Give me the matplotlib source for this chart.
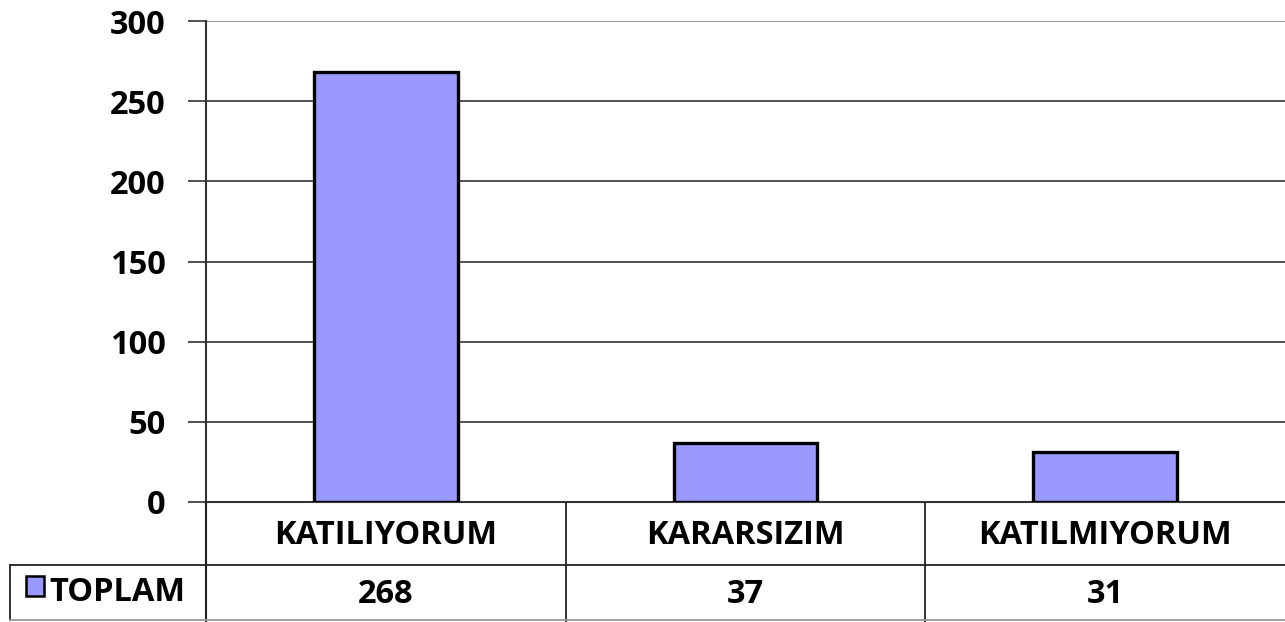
import matplotlib
matplotlib.use("Agg")
import matplotlib.pyplot as plt
from matplotlib.patches import Rectangle

categories = ["KATILIYORUM", "KARARSIZIM", "KATILMIYORUM"]
values = [268, 37, 31]
series_name = "TOPLAM"
yticks = [0, 50, 100, 150, 200, 250, 300]

plt.rcParams['font.family'] = ['Open Sans', 'DejaVu Sans']
W, H = 1285, 622
fig = plt.figure(figsize=(W / 100, H / 100), dpi=100)

FS = 23.5
bar_color = "#9999FF"
L, R, T, B = 206, 1285, 21, 502
ax = fig.add_axes([L / W, (H - B) / H, (R - L) / W, (B - T) / H])
x = list(range(len(categories)))
ax.bar(x, values, width=0.4, color=bar_color, edgecolor="black", linewidth=2.4, zorder=3)
ax.set_xlim(-0.5, len(categories) - 0.5)
ax.set_ylim(0, 300)
ax.set_yticks(yticks)
ax.set_yticklabels([str(v) for v in yticks], fontsize=FS, fontweight="bold")
ax.tick_params(axis="y", length=13, width=1.2, pad=16, color="#333333")
ax.tick_params(axis="x", length=0, labelbottom=False)
for s in ["top", "right"]:
    ax.spines[s].set_visible(False)
ax.spines["left"].set_linewidth(1.5)
ax.spines["left"].set_color("#333333")
ax.spines["bottom"].set_linewidth(1.5)
ax.spines["bottom"].set_color("#333333")
for v in yticks[1:]:
    ax.axhline(v, color="#333333" if v < 300 else "#888888", linewidth=1.2, zorder=1)

# Data table below the axes (pixel coordinates)
tax = fig.add_axes([0, 0, 1, (H - B) / H])
tax.set_xlim(0, W)
tax.set_ylim(H, B)
tax.axis("off")
col_w = (R - L) / len(categories)
row_mid = 565
lc = "#222222"
tax.plot([L, L], [B, H], color=lc, lw=1.5)
for i in range(1, len(categories)):
    xx = L + i * col_w
    tax.plot([xx, xx], [B, H], color=lc, lw=1.3)
tax.plot([10, R], [row_mid, row_mid], color=lc, lw=1.3)
tax.plot([10, 10], [row_mid, 620], color=lc, lw=1.3)
tax.plot([10, R], [620, 620], color="#999999", lw=1.3)
for i, (c, v) in enumerate(zip(categories, values)):
    cx = L + (i + 0.5) * col_w
    tax.text(cx, 536, c, ha="center", va="center", fontsize=FS, fontweight="bold")
    tax.text(cx, 595, str(v), ha="center", va="center", fontsize=FS, fontweight="bold")
tax.add_patch(Rectangle((26, 576), 18, 20, facecolor=bar_color, edgecolor="black", lw=1.8))
tax.text(49, 593, series_name, ha="left", va="center", fontsize=FS, fontweight="bold")

fig.savefig("out.png", dpi=100)
